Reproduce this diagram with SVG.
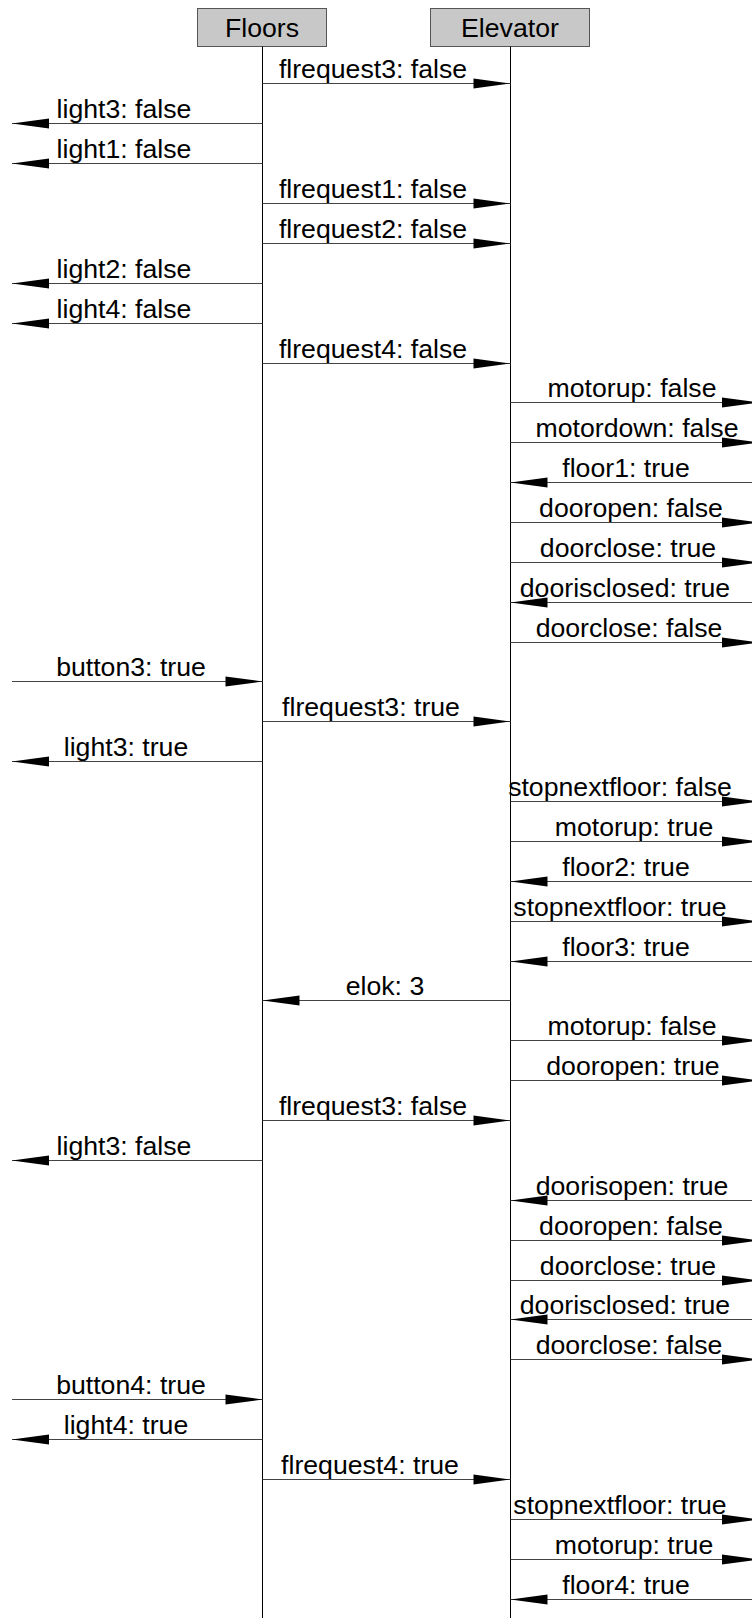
<svg xmlns="http://www.w3.org/2000/svg" width="752" height="1618" viewBox="0 0 752 1618">
<style>
.box{fill:#c8c8c8;stroke:#555;stroke-width:1}
.life{stroke:#000;stroke-width:1;fill:none}
.msg{stroke:#444;stroke-width:1.2;fill:none;marker-end:url(#ah)}
text{font-family:"Liberation Sans",Arial,sans-serif;font-size:26.67px;fill:#000;text-anchor:middle}
</style>
<defs>
<marker id="ah" markerUnits="userSpaceOnUse" markerWidth="38" markerHeight="12" refX="37" refY="5" orient="auto" overflow="visible">
<path d="M0,0 L37,5 L0,10 Z" fill="#000"/>
</marker>
</defs>
<rect width="752" height="1618" fill="#fff"/>
<g id="floors">
<rect class="box" x="197.5" y="8.5" width="129" height="38"/>
<text x="262" y="36.5">Floors</text>
<line class="life" x1="262.5" y1="46.5" x2="262.5" y2="1618"/>
</g>
<g id="elevator">
<rect class="box" x="430.5" y="8.5" width="159" height="38"/>
<text x="510" y="36.5">Elevator</text>
<line class="life" x1="510.5" y1="46.5" x2="510.5" y2="1618"/>
</g>
<g id="connectors">
<line class="msg" x1="262.5" y1="83.5" x2="510.5" y2="83.5"/><text x="373" y="77.5">flrequest3: false</text>
<line class="msg" x1="262.5" y1="123.5" x2="12" y2="123.5"/><text x="124" y="117.5">light3: false</text>
<line class="msg" x1="262.5" y1="163.5" x2="12" y2="163.5"/><text x="124" y="157.5">light1: false</text>
<line class="msg" x1="262.5" y1="203.5" x2="510.5" y2="203.5"/><text x="373" y="197.5">flrequest1: false</text>
<line class="msg" x1="262.5" y1="243.5" x2="510.5" y2="243.5"/><text x="373" y="237.5">flrequest2: false</text>
<line class="msg" x1="262.5" y1="283.5" x2="12" y2="283.5"/><text x="124" y="277.5">light2: false</text>
<line class="msg" x1="262.5" y1="323.5" x2="12" y2="323.5"/><text x="124" y="317.5">light4: false</text>
<line class="msg" x1="262.5" y1="363.5" x2="510.5" y2="363.5"/><text x="373" y="357.5">flrequest4: false</text>
<line class="msg" x1="510.5" y1="402.5" x2="759" y2="402.5"/><text x="632" y="396.5">motorup: false</text>
<line class="msg" x1="510.5" y1="442.5" x2="759" y2="442.5"/><text x="637" y="436.5">motordown: false</text>
<line class="msg" x1="752" y1="482.5" x2="510.5" y2="482.5"/><text x="626" y="476.5">floor1: true</text>
<line class="msg" x1="510.5" y1="522.5" x2="759" y2="522.5"/><text x="631" y="516.5">dooropen: false</text>
<line class="msg" x1="510.5" y1="562.5" x2="759" y2="562.5"/><text x="628" y="556.5">doorclose: true</text>
<line class="msg" x1="752" y1="602.5" x2="510.5" y2="602.5"/><text x="625" y="596.5">doorisclosed: true</text>
<line class="msg" x1="510.5" y1="642.5" x2="759" y2="642.5"/><text x="629" y="636.5">doorclose: false</text>
<line class="msg" x1="12" y1="681.5" x2="262.5" y2="681.5"/><text x="131" y="675.5">button3: true</text>
<line class="msg" x1="262.5" y1="721.5" x2="510.5" y2="721.5"/><text x="371" y="715.5">flrequest3: true</text>
<line class="msg" x1="262.5" y1="761.5" x2="12" y2="761.5"/><text x="126" y="755.5">light3: true</text>
<line class="msg" x1="510.5" y1="801.5" x2="759" y2="801.5"/><text x="620" y="795.5">stopnextfloor: false</text>
<line class="msg" x1="510.5" y1="841.5" x2="759" y2="841.5"/><text x="634" y="835.5">motorup: true</text>
<line class="msg" x1="752" y1="881.5" x2="510.5" y2="881.5"/><text x="626" y="875.5">floor2: true</text>
<line class="msg" x1="510.5" y1="921.5" x2="759" y2="921.5"/><text x="620" y="915.5">stopnextfloor: true</text>
<line class="msg" x1="752" y1="961.5" x2="510.5" y2="961.5"/><text x="626" y="955.5">floor3: true</text>
<line class="msg" x1="510.5" y1="1000.5" x2="262.5" y2="1000.5"/><text x="385" y="994.5">elok: 3</text>
<line class="msg" x1="510.5" y1="1040.5" x2="759" y2="1040.5"/><text x="632" y="1034.5">motorup: false</text>
<line class="msg" x1="510.5" y1="1080.5" x2="759" y2="1080.5"/><text x="633" y="1074.5">dooropen: true</text>
<line class="msg" x1="262.5" y1="1120.5" x2="510.5" y2="1120.5"/><text x="373" y="1114.5">flrequest3: false</text>
<line class="msg" x1="262.5" y1="1160.5" x2="12" y2="1160.5"/><text x="124" y="1154.5">light3: false</text>
<line class="msg" x1="752" y1="1200.5" x2="510.5" y2="1200.5"/><text x="632" y="1194.5">doorisopen: true</text>
<line class="msg" x1="510.5" y1="1240.5" x2="759" y2="1240.5"/><text x="631" y="1234.5">dooropen: false</text>
<line class="msg" x1="510.5" y1="1280.5" x2="759" y2="1280.5"/><text x="628" y="1274.5">doorclose: true</text>
<line class="msg" x1="752" y1="1319.5" x2="510.5" y2="1319.5"/><text x="625" y="1313.5">doorisclosed: true</text>
<line class="msg" x1="510.5" y1="1359.5" x2="759" y2="1359.5"/><text x="629" y="1353.5">doorclose: false</text>
<line class="msg" x1="12" y1="1399.5" x2="262.5" y2="1399.5"/><text x="131" y="1393.5">button4: true</text>
<line class="msg" x1="262.5" y1="1439.5" x2="12" y2="1439.5"/><text x="126" y="1433.5">light4: true</text>
<line class="msg" x1="262.5" y1="1479.5" x2="510.5" y2="1479.5"/><text x="370" y="1473.5">flrequest4: true</text>
<line class="msg" x1="510.5" y1="1519.5" x2="759" y2="1519.5"/><text x="620" y="1513.5">stopnextfloor: true</text>
<line class="msg" x1="510.5" y1="1559.5" x2="759" y2="1559.5"/><text x="634" y="1553.5">motorup: true</text>
<line class="msg" x1="752" y1="1599.5" x2="510.5" y2="1599.5"/><text x="626" y="1593.5">floor4: true</text>
</g>
</svg>
